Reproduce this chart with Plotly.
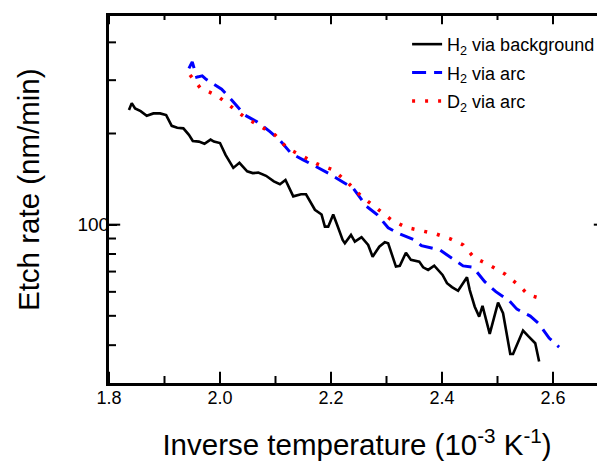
import plotly.graph_objects as go
import math

# Inverse temperature (10^-3 K^-1) and etch rate (nm/min)
bg_x = [1.836, 1.841, 1.847, 1.857, 1.868, 1.880, 1.892, 1.903, 1.913, 1.923,
        1.934, 1.944, 1.951, 1.962, 1.972, 1.983, 1.989, 2.000, 2.010, 2.024,
        2.035, 2.049, 2.059, 2.069, 2.083, 2.097, 2.108, 2.118, 2.132, 2.146,
        2.155, 2.171, 2.183, 2.189, 2.195, 2.204, 2.211, 2.221, 2.225, 2.236,
        2.243, 2.255, 2.267, 2.275, 2.287, 2.297, 2.303, 2.317, 2.324, 2.335,
        2.344, 2.351, 2.359, 2.366, 2.375, 2.386, 2.401, 2.409, 2.418, 2.429,
        2.445, 2.450, 2.459, 2.467, 2.473, 2.486, 2.501, 2.510, 2.523, 2.528,
        2.537, 2.546, 2.555, 2.568, 2.575]
bg_y = [239, 252, 242, 237, 229, 233, 233, 230, 212, 209,
        208, 198, 189, 188, 185, 191, 188, 186, 170, 154,
        160, 150, 148, 148.5, 145, 139, 136, 140.5, 124, 126,
        126, 112, 108, 98.5, 98.5, 108, 100, 89, 86.8, 92.5,
        87.9, 90.9, 85.7, 78.4, 84.6, 87.5, 86.8, 72.7, 73.1, 80.8,
        76.5, 75.9, 75.5, 72.3, 70.9, 73.2, 68.2, 64.1, 62.2, 60.5,
        67.0, 60.8, 53.6, 49.7, 53.9, 43.6, 55.3, 51.0, 37.4, 37.4,
        40.8, 44.7, 42.9, 40.6, 35.3]

h2arc_x = [1.944, 1.950, 1.958, 1.968, 1.975, 2.003, 2.021, 2.045, 2.066, 2.090,
           2.108, 2.128, 2.149, 2.177, 2.195, 2.222, 2.240, 2.264, 2.283, 2.303,
           2.321, 2.351, 2.363, 2.396, 2.409, 2.438, 2.456, 2.477, 2.497, 2.521,
           2.535, 2.559, 2.575, 2.593, 2.611]
h2arc_y = [328, 345, 307, 310, 302, 280, 258, 230, 219, 203,
           190, 172, 164, 154, 148, 138, 132, 115, 108, 97.7,
           93.7, 89.0, 85.2, 82.5, 79.4, 73.1, 72.3, 64.8, 60.1, 56.1,
           52.6, 49.9, 47.0, 42.2, 39.4]

d2arc_x = [1.946, 1.965, 1.993, 2.019, 2.045, 2.073, 2.099, 2.121, 2.174, 2.203,
           2.228, 2.255, 2.281, 2.308, 2.335, 2.362, 2.389, 2.414, 2.438, 2.458,
           2.485, 2.514, 2.536, 2.556, 2.583]
d2arc_y = [312, 282, 268, 247, 226, 211, 198, 179, 159, 152,
           139, 124, 114, 104, 98, 95.5, 93.2, 89.9, 85.7, 77.8,
           73.6, 68.6, 63.6, 58.6, 56.7]

x_range = [1.8, 2.6937]
x_major = [1.8, 2.0, 2.2, 2.4, 2.6]
x_minor = [1.9, 2.1, 2.3, 2.5]
y_range = [30, 500]
y_major = [100]
y_minor = [40, 50, 60, 70, 80, 90, 200, 300, 400]

FONT = "Liberation Sans, Arial, sans-serif"

fig = go.Figure()
fig.add_trace(go.Scatter(x=bg_x, y=bg_y, mode="lines", name="H<sub>2</sub> via background",
                         legendgroup="a", line=dict(color="#000000", width=2.6)))
fig.add_trace(go.Scatter(x=h2arc_x, y=h2arc_y, mode="lines", name="H<sub>2</sub> via arc",
                         legendgroup="b", line=dict(color="#0000ff", width=3, dash="14px,8px")))
fig.add_trace(go.Scatter(x=d2arc_x, y=d2arc_y, mode="lines", name="D<sub>2</sub> via arc",
                         legendgroup="c", line=dict(color="#ff0000", width=3.5, dash="3px,10px")))


def tick_trace(xs, ys, symbol, size):
    # line markers centred on the frame edge; the outer half is clipped by the plot area,
    # leaving an inward-pointing tick
    return go.Scatter(x=xs, y=ys, mode="markers", showlegend=False, hoverinfo="skip",
                      cliponaxis=True,
                      marker=dict(symbol=symbol, size=size, color="black",
                                  line=dict(width=2, color="black")))


# frame ticks (bottom, top, left, right) from the tick value lists
for vals, size in ((x_major, 16), (x_minor, 10)):
    fig.add_trace(tick_trace(vals, [y_range[0]] * len(vals), "line-ns", size))
    fig.add_trace(tick_trace(vals, [y_range[1]] * len(vals), "line-ns", size))
for vals, size in ((y_major, 16), (y_minor, 10)):
    fig.add_trace(tick_trace([x_range[0]] * len(vals), vals, "line-ew", size))
    fig.add_trace(tick_trace([x_range[1]] * len(vals), vals, "line-ew", size))
# top frame line (half of it clipped by the plot area)
fig.add_trace(go.Scatter(x=x_range, y=[y_range[1], y_range[1]], mode="lines",
                         showlegend=False, hoverinfo="skip", cliponaxis=True,
                         line=dict(color="black", width=6)))

ylog = [math.log10(y_range[0]), math.log10(y_range[1])]
tk = dict(ticks="inside", ticklen=8, tickwidth=2, tickcolor="black",
          showgrid=False, zeroline=False, automargin=False)

fig.update_layout(
    width=597, height=453,
    margin=dict(l=101, r=0, t=5, b=78, autoexpand=False),
    paper_bgcolor="white", plot_bgcolor="white",
    font=dict(family=FONT, color="black", size=18),
    showlegend=True,
    legend=dict(x=0.601, y=0.965, xanchor="left", yanchor="top",
                bgcolor="rgba(0,0,0,0)",
                font=dict(size=18, family=FONT), tracegroupgap=2),
    xaxis=dict(range=x_range, showline=True, linewidth=3, linecolor="black",
               tickmode="array", tickvals=x_major, tickformat=".1f",
               tickfont=dict(size=18), ticklabelstandoff=-4, **tk,
               title=dict(text="Inverse temperature (10<sup>-3</sup> K<sup>-1</sup>)",
                          font=dict(size=29.5), standoff=29)),
    yaxis=dict(type="log", range=ylog, showline=True, linewidth=3, linecolor="black",
               tickmode="array", tickvals=y_major, ticktext=["100"],
               tickfont=dict(size=19), ticklabelstandoff=-7, **tk),
    annotations=[dict(text="Etch rate (nm/min)", textangle=-90, showarrow=False,
                      xref="paper", yref="paper", x=0, y=0.5216, xshift=-81,
                      xanchor="center", yanchor="middle",
                      font=dict(size=29.5, family=FONT, color="black"))],
)

fig.write_html("out.html")
